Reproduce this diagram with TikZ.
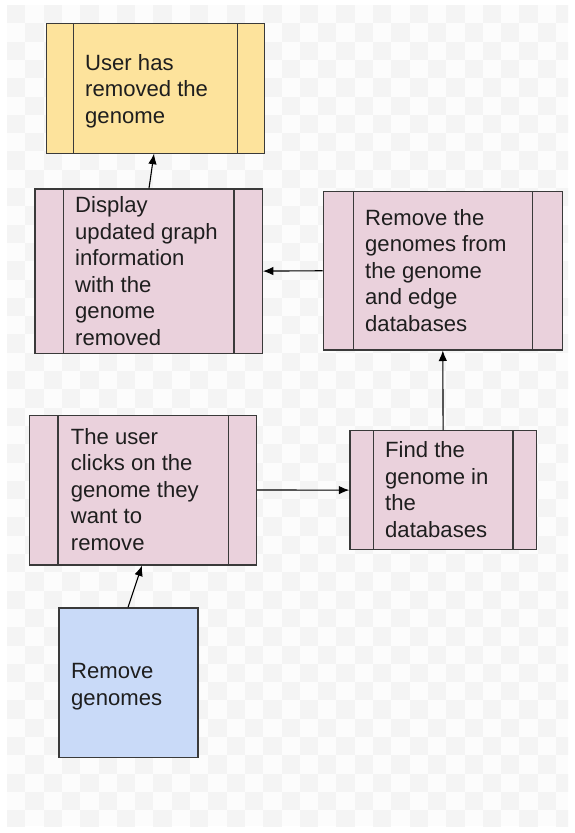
\documentclass[tikz,border=0pt]{standalone}
\usepackage{fontspec}
\setmainfont{Liberation Sans}
\usetikzlibrary{arrows.meta}

\definecolor{yellowbox}{HTML}{FDE39C}
\definecolor{pinkbox}{HTML}{EAD1DC}
\definecolor{bluebox}{HTML}{C9DAF8}
\definecolor{edgec}{HTML}{3A3A3A}
\definecolor{textc}{HTML}{1E1E1E}
\definecolor{checkA}{HTML}{F4F4F4}
\definecolor{checkB}{HTML}{FCFCFC}

\tikzset{
  box/.style={draw=edgec, line width=1.2pt, rectangle, inner sep=0pt, anchor=north west},
  % predefined-process box: two inner vertical bars, #1 in from each side
  subproc/.style={box, fill=pinkbox,
    path picture={
      \draw[edgec, line width=1.2pt]
        ([xshift=#1]path picture bounding box.north west) --
        ([xshift=#1]path picture bounding box.south west);
      \draw[edgec, line width=1.2pt]
        ([xshift=-#1]path picture bounding box.north east) --
        ([xshift=-#1]path picture bounding box.south east);
    }},
  % multi-line label, positioned by the baseline of its last line
  txt/.style={align=left, inner sep=0pt, anchor=base west, text=textc,
    font=\fontsize{22.1}{26.6}\selectfont},
  arr/.style={draw=black, line width=1.1pt, -{Latex[length=10.5pt,width=8.5pt]}}
}

\begin{document}
\begin{tikzpicture}[x=1pt,y=-1pt]
  % page and faint checkered backdrop
  \fill[white] (0,0) rectangle (575,833);
  \useasboundingbox (0,0) rectangle (575,833);
  \fill[checkB] (7,5) rectangle (568,826);
  \begin{scope}
    \clip (7,5) rectangle (568,826);
    \foreach \i in {0,...,30} {
      \foreach \j in {0,...,45} {
        \pgfmathparse{int(mod(\i+\j,2))}
        \ifnum\pgfmathresult=0
          \fill[checkA] (7+\i*18.3,5+\j*18.3) rectangle ++(18.3,18.3);
        \fi
      }
    }
  \end{scope}

  % boxes
  \node[subproc=27.2pt, fill=yellowbox, minimum width=218.5pt, minimum height=130pt] (b1) at (45.5,22.5) {};
  \node[subproc=28.4pt, minimum width=227.4pt, minimum height=164.4pt] (b2) at (34.3,188.3) {};
  \node[subproc=30pt, minimum width=239pt, minimum height=158.3pt] (b3) at (322.7,191) {};
  \node[subproc=28.3pt, minimum width=227pt, minimum height=149.8pt] (b4) at (29,414.5) {};
  \node[subproc=23.4pt, minimum width=186.4pt, minimum height=119pt] (b5) at (349.3,430) {};
  \node[box, fill=bluebox, minimum width=139pt, minimum height=149.4pt] (b6) at (58.3,607.3) {};

  % labels
  \node[txt] (t1) at (85,123.5) {User has\\removed the\\genome};
  \node[txt] (t2) at (75,345.5) {Display\\updated graph\\information\\with the\\genome\\removed};
  \node[txt] (t3) at (365,331.5) {Remove the\\genomes from\\the genome\\and edge\\databases};
  \node[txt] (t4) at (70.7,550.5) {The user\\clicks on the\\genome they\\want to\\remove};
  \node[txt] (t5) at (385,537.3) {Find the\\genome in\\the\\databases};
  \node[txt] (t6) at (71,705.5) {Remove\\genomes};

  % connectors
  \draw[arr] ([xshift=69.7pt]b6.north west) -- ([xshift=113pt]b4.south west);
  \draw[arr] (b4.east) -- (b5.west);
  \draw[arr] (b5.north) -- (b3.south);
  \draw[arr] (b3.west) -- (b2.east);
  \draw[arr] ([xshift=114.7pt]b2.north west) -- ([xshift=108.5pt]b1.south west);
\end{tikzpicture}
\end{document}
